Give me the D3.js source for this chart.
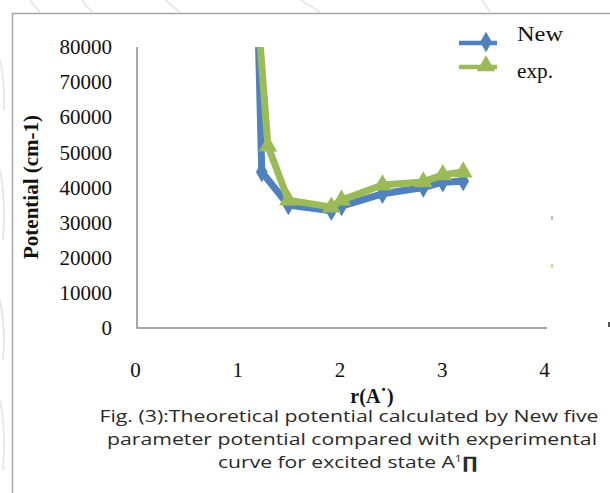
<!DOCTYPE html>
<html>
<head>
<meta charset="utf-8">
<script src="https://cdn.jsdelivr.net/npm/d3@7"></script>
<style>
    body { margin: 0; background: #fff; }
    svg { display: block; }
</style>
</head>
<body>
<div id="chart"></div>
<script>
// distances r (A) for each series, first point sits above the 80000 limit and gets clipped
const rNew = [1.2, 1.24, 1.5, 1.92, 2.02, 2.42, 2.82, 3.01, 3.21];
const vNew = [90000, 44400, 35000, 33400, 34700, 38200, 40000, 41500, 41800];
const rExp = [1.2, 1.3, 1.5, 1.92, 2.02, 2.42, 2.82, 3.01, 3.21];
const vExp = [90000, 51800, 36400, 34400, 36400, 40700, 41600, 43600, 44400];
const xTicks = [0, 1, 2, 3, 4];
const yTicks = [0, 10000, 20000, 30000, 40000, 50000, 60000, 70000, 80000];
const seriesNames = ['New', 'exp.'];
const captionLines = [
    'Fig. (3):Theoretical  potential  calculated by New five',
    'parameter potential  compared  with experimental',
    'curve for excited state A'
];

const width = 610;
const height = 493;
const blue = '#4f81bd';
const green = '#9bbb59';
const serif = '"Liberation Serif", "DejaVu Serif", serif';

const svg = d3.select('#chart')
    .append('svg')
    .attr('width', width)
    .attr('height', height);

// faint background strokes from the scanned page
const bg = svg.append('g')
    .attr('fill', 'none')
    .attr('stroke', '#e8e8e8')
    .attr('stroke-width', 2);
bg.append('path').attr('d', 'M30,0 Q34,6 40,12');
bg.append('path').attr('d', 'M82,0 Q86,6 92,12');
bg.append('path').attr('d', 'M165,0 Q172,6 180,12');
bg.append('path').attr('d', 'M300,0 Q310,6 320,12');
bg.append('path').attr('d', 'M482,0 Q486,6 490,12');
bg.append('path').attr('d', 'M0,60 Q5,80 4,110');
bg.append('path').attr('d', 'M0,170 Q6,200 3,240');
bg.append('path').attr('d', 'M0,300 Q6,330 3,360');
bg.append('path').attr('d', 'M0,400 Q6,430 3,470');

// chart frame (runs off the right and bottom edges)
svg.append('path')
    .attr('d', 'M12.5,493 V13.5 H610')
    .attr('fill', 'none')
    .attr('stroke', '#a6a6a6')
    .attr('stroke-width', 1.5);

const x = d3.scaleLinear()
    .domain([0, 4])
    .range([135, 544]);

const y = d3.scaleLinear()
    .domain([0, 80000])
    .range([328, 47]);

// axes
const yAxis = svg.append('g')
    .attr('transform', 'translate(137,0)')
    .call(d3.axisLeft(y).tickValues(yTicks).tickSize(0).tickPadding(25).tickFormat(d3.format('d')));
yAxis.select('.domain').remove();

const xAxis = svg.append('g')
    .attr('transform', 'translate(0,328)')
    .call(d3.axisBottom(x).tickValues(xTicks).tickSize(0).tickPadding(34).tickFormat(d3.format('d')));
xAxis.select('.domain').remove();

svg.selectAll('.tick text')
    .attr('font-family', serif)
    .attr('font-size', 21)
    .attr('fill', '#111');

svg.append('path')
    .attr('d', `M137,${y(80000)} V${y(0)} H547`)
    .attr('fill', 'none')
    .attr('stroke', '#8c8c8c')
    .attr('stroke-width', 1.5);

// axis titles
svg.append('text')
    .attr('transform', 'translate(38,187) rotate(-90)')
    .attr('text-anchor', 'middle')
    .attr('font-family', serif)
    .attr('font-weight', 'bold')
    .attr('font-size', 21)
    .attr('fill', '#111')
    .text('Potential (cm-1)');

svg.append('text')
    .attr('x', 372)
    .attr('y', 403)
    .attr('text-anchor', 'middle')
    .attr('font-family', serif)
    .attr('font-weight', 'bold')
    .attr('font-size', 20)
    .attr('fill', '#111')
    .text('r(A\u02d9)');

// clip the series to the plot area
svg.append('clipPath')
    .attr('id', 'plot-clip')
    .append('rect')
    .attr('x', 137)
    .attr('y', y(80000))
    .attr('width', 410)
    .attr('height', y(0) - y(80000));

const plot = svg.append('g').attr('clip-path', 'url(#plot-clip)');

const line = d3.line()
    .x(d => x(d.r))
    .y(d => y(d.v));

const newData = rNew.map((r, i) => ({ r: r, v: vNew[i] }));
const expData = rExp.map((r, i) => ({ r: r, v: vExp[i] }));

const diamond = d3.symbol().type(d3.symbolDiamond).size(120);
const triangle = d3.symbol().type(d3.symbolTriangle).size(150);

// New series (blue, diamonds)
plot.append('path')
    .datum(newData)
    .attr('d', line)
    .attr('fill', 'none')
    .attr('stroke', blue)
    .attr('stroke-width', 7)
    .attr('stroke-linejoin', 'round');

plot.selectAll('.m-new')
    .data(newData)
    .join('path')
    .attr('class', 'm-new')
    .attr('transform', d => `translate(${x(d.r)},${y(d.v)})`)
    .attr('d', diamond)
    .attr('fill', blue);

// exp. series (green, triangles)
plot.append('path')
    .datum(expData)
    .attr('d', line)
    .attr('fill', 'none')
    .attr('stroke', green)
    .attr('stroke-width', 7)
    .attr('stroke-linejoin', 'round');

plot.selectAll('.m-exp')
    .data(expData)
    .join('path')
    .attr('class', 'm-exp')
    .attr('transform', d => `translate(${x(d.r)},${y(d.v)})`)
    .attr('d', triangle)
    .attr('fill', green);

// legend
const legend = svg.append('g');
const legendRows = [
    { name: seriesNames[0], color: blue, symbol: diamond, y: 43, textY: 41, len: 46 },
    { name: seriesNames[1], color: green, symbol: triangle, y: 67, textY: 78, len: 36 }
];
legendRows.forEach(row => {
    legend.append('line')
        .attr('x1', 459).attr('x2', 497)
        .attr('y1', row.y).attr('y2', row.y)
        .attr('stroke', row.color)
        .attr('stroke-width', 4.5);
    legend.append('path')
        .attr('transform', `translate(486,${row.y - 1})`)
        .attr('d', row.symbol)
        .attr('fill', row.color);
    legend.append('text')
        .attr('x', 517)
        .attr('y', row.textY)
        .attr('font-family', serif)
        .attr('font-size', 20)
        .attr('fill', '#111')
        .attr('textLength', row.len)
        .attr('lengthAdjust', 'spacingAndGlyphs')
        .text(row.name);
});

// stray specks at the right edge
svg.append('rect').attr('x', 551).attr('y', 216).attr('width', 2).attr('height', 4).attr('fill', '#a9c1e3');
svg.append('rect').attr('x', 551).attr('y', 264).attr('width', 2).attr('height', 4).attr('fill', '#c8d9a3');
svg.append('rect').attr('x', 608).attr('y', 322).attr('width', 2).attr('height', 5).attr('fill', '#555');

// caption (the scan is stretched sideways, so each line is fitted to its width)
const sans = '"Open Sans", Lato, sans-serif';
const caption = svg.append('g')
    .attr('font-family', sans)
    .attr('font-size', 15.5)
    .attr('fill', '#2a2a2a')
    .attr('text-anchor', 'middle');

caption.append('text')
    .attr('x', 349).attr('y', 422)
    .attr('textLength', 499)
    .attr('lengthAdjust', 'spacingAndGlyphs')
    .text(captionLines[0]);

caption.append('text')
    .attr('x', 352).attr('y', 445)
    .attr('textLength', 490)
    .attr('lengthAdjust', 'spacingAndGlyphs')
    .text(captionLines[1]);

const last = caption.append('text')
    .attr('x', 348).attr('y', 468)
    .attr('textLength', 260)
    .attr('lengthAdjust', 'spacingAndGlyphs');
last.append('tspan').text(captionLines[2]);
last.append('tspan').attr('font-size', 9).attr('dy', -6).text('1');
last.append('tspan').attr('dy', 6).attr('font-weight', 'bold').attr('font-size', 16).text('\u220f');
</script>
</body>
</html>
